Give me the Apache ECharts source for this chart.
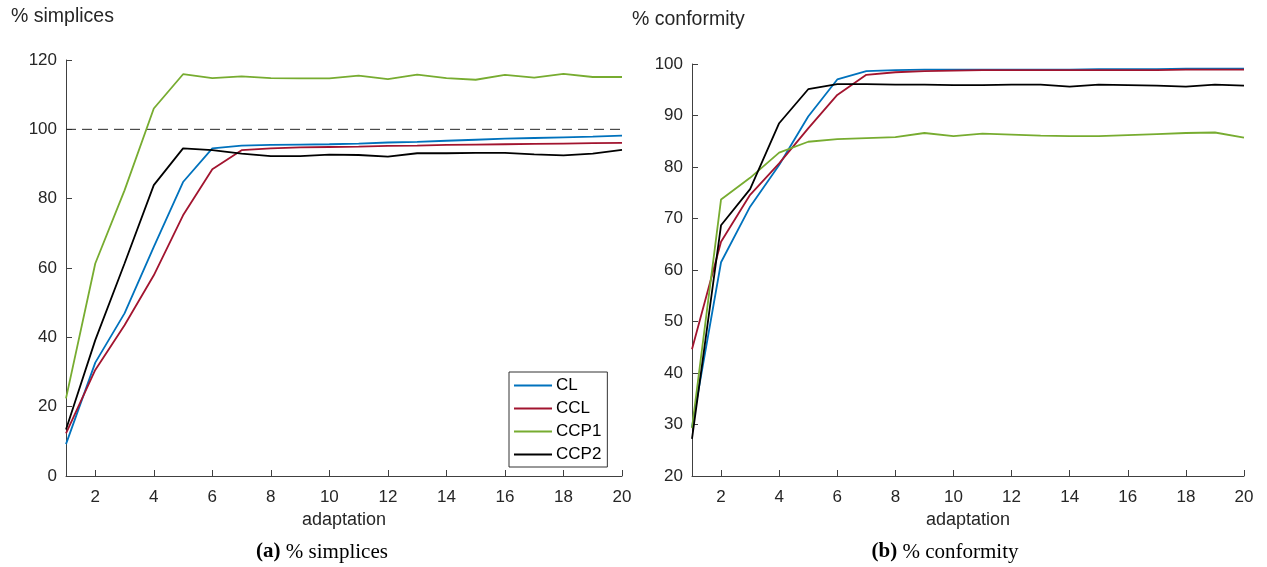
<!DOCTYPE html>
<html>
<head>
<meta charset="utf-8">
<script src="https://cdn.jsdelivr.net/npm/echarts@6/dist/echarts.min.js"></script>
<style>
  html, body { margin: 0; padding: 0; background: #fff; }
  #chart { width: 1267px; height: 567px; }
</style>
</head>
<body>
<div id="chart"></div>
<script>
// adaptation steps
const adaptation = [1, 2, 3, 4, 5, 6, 7, 8, 9, 10, 11, 12, 13, 14, 15, 16, 17, 18, 19, 20];
const xTicks = [2, 4, 6, 8, 10, 12, 14, 16, 18, 20];
const seriesNames = ['CL', 'CCL', 'CCP1', 'CCP2'];
const seriesColors = ['#0072BD', '#A2142F', '#77AC30', '#000000'];

// (a) percentage of simplices
const simplicesCL   = [9.2, 32.7, 46.9, 66.1, 84.8, 94.5, 95.3, 95.5, 95.6, 95.7, 95.9, 96.2, 96.4, 96.7, 97.0, 97.3, 97.5, 97.7, 97.9, 98.2];
const simplicesCCL  = [12.3, 30.6, 43.5, 57.9, 75.2, 88.5, 94.0, 94.5, 94.8, 94.9, 95.0, 95.2, 95.3, 95.5, 95.6, 95.7, 95.8, 95.9, 96.0, 96.1];
const simplicesCCP1 = [22.4, 61.3, 82.4, 106.0, 115.9, 114.8, 115.3, 114.8, 114.7, 114.7, 115.5, 114.5, 115.8, 114.8, 114.3, 115.7, 114.9, 116.0, 115.1, 115.1];
const simplicesCCP2 = [13.4, 39.2, 61.3, 83.9, 94.5, 94.0, 93.0, 92.3, 92.3, 92.7, 92.6, 92.1, 93.1, 93.1, 93.2, 93.2, 92.8, 92.5, 93.0, 94.1];
const referenceLevel = 100;

// (b) percentage of conformity
const conformityCL   = [29.5, 61.5, 72.3, 80.4, 89.8, 97.0, 98.6, 98.8, 98.9, 98.9, 98.9, 98.9, 98.9, 98.9, 99.0, 99.0, 99.0, 99.1, 99.1, 99.1];
const conformityCCL  = [44.6, 65.5, 74.6, 80.7, 87.5, 94.0, 97.9, 98.4, 98.6, 98.7, 98.8, 98.8, 98.8, 98.8, 98.8, 98.8, 98.8, 98.9, 98.9, 98.9];
const conformityCCP1 = [29.3, 73.7, 77.9, 82.8, 84.9, 85.4, 85.6, 85.8, 86.6, 86.0, 86.5, 86.3, 86.1, 86.0, 86.0, 86.2, 86.4, 86.6, 86.7, 85.7];
const conformityCCP2 = [27.2, 68.7, 75.7, 88.5, 95.1, 96.1, 96.1, 96.0, 96.0, 95.9, 95.9, 96.0, 96.0, 95.6, 96.0, 95.9, 95.8, 95.6, 96.0, 95.8];

const simplicesData = [simplicesCL, simplicesCCL, simplicesCCP1, simplicesCCP2];
const conformityData = [conformityCL, conformityCCL, conformityCCP1, conformityCCP2];

const axisColor = '#404040';
const textColor = '#262626';
const sansFont = '"Liberation Sans", Arial, sans-serif';
const serifFont = '"Liberation Serif", "DejaVu Serif", serif';

function pairs(values) {
  return adaptation.map((x, i) => [x, values[i]]);
}

function xAxisFor(gridIndex) {
  return {
    type: 'value', gridIndex: gridIndex, min: 1, max: 20,
    name: 'adaptation', nameLocation: 'middle', nameGap: 35,
    nameTextStyle: { fontFamily: sansFont, fontSize: 18, color: textColor },
    axisLine: { show: true, lineStyle: { color: axisColor, width: 1 } },
    axisTick: { show: true, inside: true, length: 6, customValues: xTicks, lineStyle: { color: axisColor } },
    axisLabel: { customValues: xTicks, margin: 13, fontFamily: sansFont, fontSize: 17, color: textColor },
    splitLine: { show: false }
  };
}

function yAxisFor(gridIndex, min, max, interval) {
  return {
    type: 'value', gridIndex: gridIndex, min: min, max: max, interval: interval,
    axisLine: { show: true, lineStyle: { color: axisColor, width: 1 } },
    axisTick: { show: true, inside: true, length: 6, lineStyle: { color: axisColor } },
    axisLabel: { margin: 9, fontFamily: sansFont, fontSize: 17, color: textColor },
    splitLine: { show: false }
  };
}

const series = [];
seriesNames.forEach((name, k) => {
  series.push({
    name: name, type: 'line', xAxisIndex: 0, yAxisIndex: 0,
    data: pairs(simplicesData[k]), symbol: 'none', smooth: false,
    lineStyle: { color: seriesColors[k], width: 1.8 }, itemStyle: { color: seriesColors[k] },
    z: 3 + k
  });
});
series.push({
  name: 'reference', type: 'line', xAxisIndex: 0, yAxisIndex: 0,
  data: [[1, referenceLevel], [20, referenceLevel]], symbol: 'none',
  lineStyle: { color: '#262626', width: 1, type: [10, 6] }, z: 2
});
seriesNames.forEach((name, k) => {
  series.push({
    name: name, type: 'line', xAxisIndex: 1, yAxisIndex: 1,
    data: pairs(conformityData[k]), symbol: 'none', smooth: false,
    lineStyle: { color: seriesColors[k], width: 1.8 }, itemStyle: { color: seriesColors[k] },
    z: 3 + k
  });
});

const chart = echarts.init(document.getElementById('chart'), null, { renderer: 'canvas' });
chart.setOption({
  backgroundColor: '#ffffff',
  animation: false,
  grid: [
    { left: 66, right: 645, top: 60, bottom: 91 },
    { left: 692, right: 23, top: 64, bottom: 91 }
  ],
  xAxis: [xAxisFor(0), xAxisFor(1)],
  yAxis: [yAxisFor(0, 0, 120, 20), yAxisFor(1, 20, 100, 10)],
  legend: {
    data: seriesNames,
    orient: 'vertical',
    left: 509, top: 372,
    width: 101,
    padding: [5, 6, 4, 5],
    itemGap: 6,
    itemWidth: 38, itemHeight: 2,
    icon: 'rect',
    borderColor: '#333333', borderWidth: 1,
    backgroundColor: '#ffffff',
    textStyle: { fontFamily: sansFont, fontSize: 17, color: '#000000', padding: [0, 0, 0, -1] }
  },
  graphic: [
    { type: 'text', left: 11, top: 7, style: { text: '% simplices', font: '19.5px ' + sansFont, fill: textColor } },
    { type: 'text', left: 632, top: 10, style: { text: '% conformity', font: '19.5px ' + sansFont, fill: textColor } },
    {
      type: 'text', x: 322, y: 552,
      style: {
        text: '{b|(a)} % simplices', align: 'center', verticalAlign: 'middle',
        font: '21px ' + serifFont, fill: '#000',
        rich: { b: { fontWeight: 'bold', fontFamily: serifFont, fontSize: 21 } }
      }
    },
    {
      type: 'text', x: 945, y: 552,
      style: {
        text: '{b|(b)} % conformity', align: 'center', verticalAlign: 'middle',
        font: '21px ' + serifFont, fill: '#000',
        rich: { b: { fontWeight: 'bold', fontFamily: serifFont, fontSize: 21 } }
      }
    }
  ],
  series: series
});
</script>
</body>
</html>
